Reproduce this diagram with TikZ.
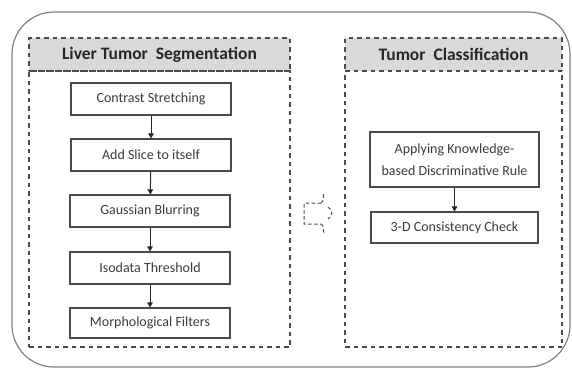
\documentclass[tikz,border=0pt]{standalone}
\usepackage{fontspec}
\setmainfont{Carlito}
\usetikzlibrary{arrows.meta}
\definecolor{hdrgray}{HTML}{D9D9D9}
\definecolor{linegray}{HTML}{4A4A4A}
\definecolor{txtgray}{HTML}{3A3A3A}
\tikzset{
  panelline/.style={draw=linegray, line width=1.4pt, dash pattern=on 4.5pt off 4pt},
  header/.style={panelline, fill=hdrgray, minimum height=33pt, inner sep=0pt, font=\fontsize{17.5}{19}\selectfont\bfseries, text=black!85},
  body/.style={panelline, inner sep=0pt},
  stepbox/.style={draw=linegray, line width=1.1pt, minimum width=160pt, minimum height=32pt, inner sep=0pt, font=\fontsize{14}{22}\selectfont, text=txtgray, align=center},
  flow/.style={draw=black!85, line width=1pt, -{Triangle[length=5pt,width=5.5pt]}}
}
\begin{document}
\begin{tikzpicture}[x=1pt,y=-1pt]
\useasboundingbox (0,0) rectangle (572,368);
% outer rounded frame
\draw[draw=black!50, line width=1.2pt, rounded corners=42pt] (12,12) rectangle (570,367);
% left panel
\node[header, minimum width=261pt] (lh) at (159.5,54.5) {Liver Tumor\ \ Segmentation};
\node[body, minimum width=261pt, minimum height=276pt] (lb) at (159.5,209) {};
% right panel
\node[header, minimum width=217pt] (rh) at (453.5,54.5) {Tumor\ \ Classification};
\node[body, minimum width=217pt, minimum height=276pt] (rb) at (453.5,209) {};
% left steps
\node[stepbox] (s1) at (151,99) {Contrast Stretching};
\node[stepbox] (s2) at (151,155) {Add Slice to itself};
\node[stepbox] (s3) at (150,211) {Gaussian Blurring};
\node[stepbox] (s4) at (150,268) {Isodata Threshold};
\node[stepbox, minimum height=30pt] (s5) at (150,323) {Morphological Filters};
\draw[flow] (s1) -- (s2);
\draw[flow] (s2) -- (s3);
\draw[flow] (s3) -- (s4);
\draw[flow] (s4) -- (s5);
% right steps
\node[stepbox, minimum width=169pt, minimum height=55pt] (r1) at (454.5,159.5) {Applying Knowledge-\\based Discriminative Rule};
\node[stepbox, minimum width=167pt, minimum height=31pt] (r2) at (454.5,227.5) {3-D Consistency Check};
\draw[flow] (r1) -- (r2);
% dashed block arrow between panels
\draw[draw=black!70, line width=1pt, dash pattern=on 3.5pt off 2.5pt]
  (321,203) -- (304,203) -- (304,224) -- (321,224)
  (321,224) .. controls (325,226) and (322,230) .. (324,233)
  (321,203) .. controls (325,201) and (322,196) .. (324,193)
  (328,207) .. controls (333,210) and (333,216) .. (328,219);
\end{tikzpicture}
\end{document}
